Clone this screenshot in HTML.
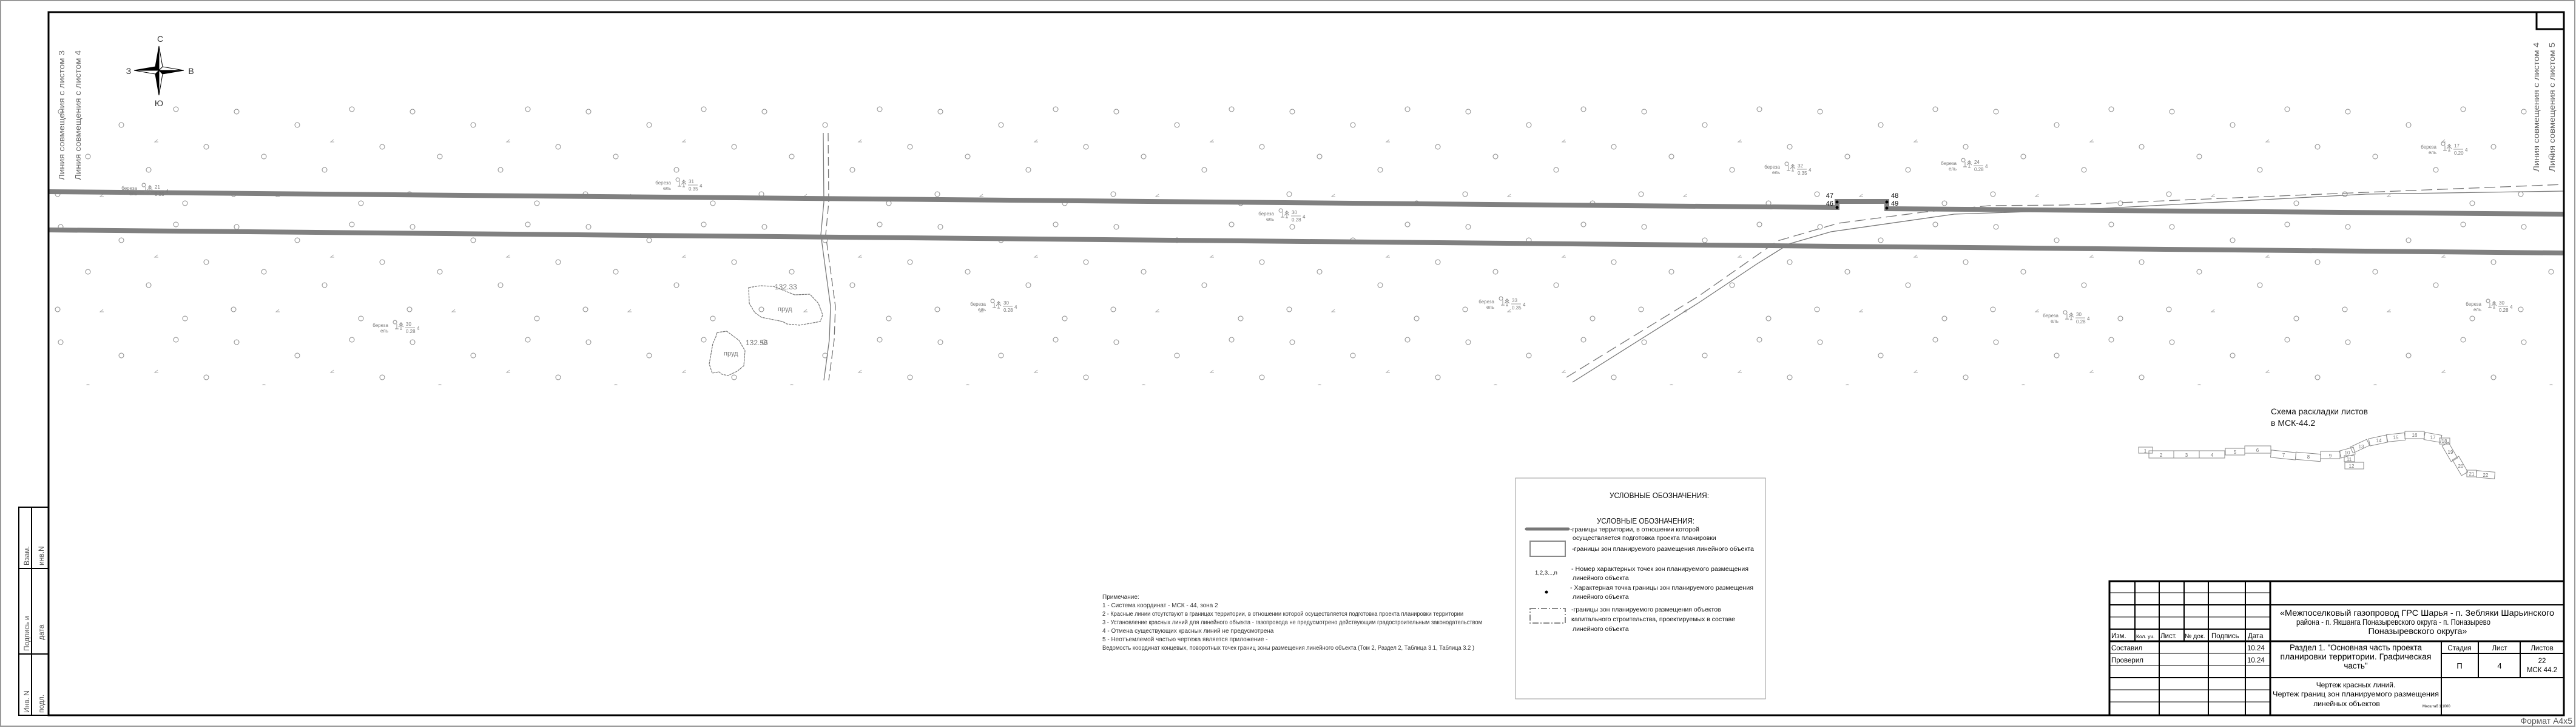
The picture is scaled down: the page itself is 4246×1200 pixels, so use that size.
<!DOCTYPE html>
<html><head><meta charset="utf-8">
<style>
html,body{margin:0;padding:0;background:#fff;}
svg{display:block;}
text{font-family:"Liberation Sans",sans-serif;}
.s{font-family:"Liberation Serif",serif;}
.n{font-family:"Liberation Sans Narrow","Liberation Sans",sans-serif;}
</style></head>
<body>
<svg width="4246" height="1200" viewBox="0 0 4246 1200" xmlns="http://www.w3.org/2000/svg">
<defs>
<pattern id="trees" x="80" y="170" width="290" height="190" patternUnits="userSpaceOnUse">
 <g fill="none" stroke="#888" stroke-width="1">
  <circle cx="20" cy="14" r="4"/><circle cx="120" cy="36" r="4"/><circle cx="210" cy="10" r="4"/>
  <circle cx="260" cy="72" r="4"/><circle cx="65" cy="88" r="4"/><circle cx="165" cy="110" r="4"/>
  <circle cx="15" cy="150" r="4"/><circle cx="225" cy="165" r="4"/>
 </g>
 <path d="M180 60 l-5 4 h6 M90 150 l-5 4 h6" stroke="#aaa" fill="none" stroke-width="1"/>
</pattern>
<g id="tl">
 <path d="M11 -5 a3 3 0 1 1 0.1 0 M14 -5 v8 M11 3 h6" stroke="#888" fill="none" stroke-width="0.9"/>
 <path d="M21 -8 v12 M18 -4 l3 -3 l3 3 M17 0 l4 -4 l4 4 M19 4 h4" stroke="#888" fill="none" stroke-width="0.9"/>
 <line x1="28" y1="1" x2="44" y2="1" stroke="#888" stroke-width="0.8"/>
</g>
</defs>

<rect x="1" y="1" width="4243" height="1196" fill="#fff" stroke="#999" stroke-width="2"/>

<rect x="82" y="170" width="4142" height="465" fill="url(#trees)"/>

<g fill="none" stroke="#777" stroke-width="1.3">
 <path d="M1357 219 L1358 333 L1353 387 L1369 505 L1367 560 L1358 627"/>
 <path d="M1365 219 L1366 333 L1361 387 L1377 505 L1375 560 L1366 627" stroke-dasharray="14 6"/>
 <path d="M2592 630 L2800 499 L2896 435 L2949 402 L3018 382 L3221 353 L3401 347 L3900 320 L4226 315"/>
 <path d="M2582 622 L2800 488 L2930 397 L3030 368 L3168 350 L3279 339 L3401 338 L3900 317 L4226 304" stroke-dasharray="18 8"/>
</g>

<g fill="none" stroke="#777" stroke-width="1.2" stroke-dasharray="4 1">
 <path d="M1234 474 L1253 471 L1275 472 L1310 486 L1335 485 L1349 500 L1356 519 L1352 530 L1318 536 L1297 534 L1290 530 L1255 523 L1244 515 L1235 500 Z"/>
 <path d="M1182 548 L1198 546 L1218 561 L1228 578 L1226 603 L1215 612 L1200 619 L1190 617 L1185 613 L1174 615 L1169 600 L1175 566 L1180 555 Z"/>
</g>
<g fill="#777" font-size="11">
 <text x="1282" y="513">пруд</text>
 <text x="1277" y="477" font-size="12">132.33</text>
 <text x="1193" y="586">пруд</text>
 <text x="1229" y="569" font-size="12">132.56</text>
</g>

<g fill="none" stroke="#808080" stroke-width="8">
 <path d="M80 316 L3028 342 L3028 332 L3110 332 L3110 344 L4226 353"/>
 <path d="M80 379 L4226 417"/>
</g>
<g fill="#000">
 <circle cx="3028" cy="342" r="2.5"/><circle cx="3028" cy="333" r="2.5"/>
 <circle cx="3110" cy="333" r="2.5"/><circle cx="3110" cy="343" r="2.5"/>
</g>
<g font-size="11" fill="#000">
 <text x="3022" y="326" text-anchor="end">47</text>
 <text x="3022" y="339" text-anchor="end">46</text>
 <text x="3117" y="326">48</text>
 <text x="3117" y="339">49</text>
</g>

<g font-size="8" fill="#777">
 <g transform="translate(226,313)"><text text-anchor="end">береза</text><text y="9" text-anchor="end">ель</text><use href="#tl"/><text x="29" y="-2">21</text><text x="29" y="10">0.35</text><text x="47" y="5">4</text></g>
 <g transform="translate(1106,304)"><text text-anchor="end">береза</text><text y="9" text-anchor="end">ель</text><use href="#tl"/><text x="29" y="-2">31</text><text x="29" y="10">0.35</text><text x="47" y="5">4</text></g>
 <g transform="translate(2934,278)"><text text-anchor="end">береза</text><text y="9" text-anchor="end">ель</text><use href="#tl"/><text x="29" y="-2">32</text><text x="29" y="10">0.35</text><text x="47" y="5">4</text></g>
 <g transform="translate(3225,272)"><text text-anchor="end">береза</text><text y="9" text-anchor="end">ель</text><use href="#tl"/><text x="29" y="-2">24</text><text x="29" y="10">0.28</text><text x="47" y="5">4</text></g>
 <g transform="translate(4016,245)"><text text-anchor="end">береза</text><text y="9" text-anchor="end">ель</text><use href="#tl"/><text x="29" y="-2">17</text><text x="29" y="10">0.20</text><text x="47" y="5">4</text></g>
 <g transform="translate(2463,500)"><text text-anchor="end">береза</text><text y="9" text-anchor="end">ель</text><use href="#tl"/><text x="29" y="-2">33</text><text x="29" y="10">0.35</text><text x="47" y="5">4</text></g>
 <g transform="translate(3393,523)"><text text-anchor="end">береза</text><text y="9" text-anchor="end">ель</text><use href="#tl"/><text x="29" y="-2">30</text><text x="29" y="10">0.28</text><text x="47" y="5">4</text></g>
 <g transform="translate(1625,504)"><text text-anchor="end">береза</text><text y="9" text-anchor="end">ель</text><use href="#tl"/><text x="29" y="-2">30</text><text x="29" y="10">0.28</text><text x="47" y="5">4</text></g>
 <g transform="translate(640,539)"><text text-anchor="end">береза</text><text y="9" text-anchor="end">ель</text><use href="#tl"/><text x="29" y="-2">30</text><text x="29" y="10">0.28</text><text x="47" y="5">4</text></g>
 <g transform="translate(4090,504)"><text text-anchor="end">береза</text><text y="9" text-anchor="end">ель</text><use href="#tl"/><text x="29" y="-2">30</text><text x="29" y="10">0.28</text><text x="47" y="5">4</text></g>
 <g transform="translate(2100,355)"><text text-anchor="end">береза</text><text y="9" text-anchor="end">ель</text><use href="#tl"/><text x="29" y="-2">30</text><text x="29" y="10">0.28</text><text x="47" y="5">4</text></g>
</g>

<g stroke="#000" stroke-width="1">
 <polygon points="262,76 262,116 256,110" fill="#000"/>
 <polygon points="262,76 262,116 268,110" fill="#fff"/>
 <polygon points="303,116 262,116 268,110" fill="#fff"/>
 <polygon points="303,116 262,116 268,122" fill="#000"/>
 <polygon points="262,157 262,116 268,122" fill="#fff"/>
 <polygon points="262,157 262,116 256,122" fill="#000"/>
 <polygon points="221,116 262,116 256,122" fill="#fff"/>
 <polygon points="221,116 262,116 256,110" fill="#000"/>
</g>
<g font-size="14" fill="#333" text-anchor="middle">
 <text x="264" y="69">С</text><text x="262" y="175">Ю</text>
 <text x="212" y="122">З</text><text x="315" y="122">В</text>
</g>

<g font-size="13" fill="#666">
 <text transform="translate(106,297) rotate(-90)" textLength="214" lengthAdjust="spacingAndGlyphs">Линия совмещения с листом 3</text>
 <text transform="translate(133,297) rotate(-90)" textLength="214" lengthAdjust="spacingAndGlyphs">Линия совмещения с листом 4</text>
 <text transform="translate(4185,283) rotate(-90)" textLength="213" lengthAdjust="spacingAndGlyphs">Линия совмещения с листом 4</text>
 <text transform="translate(4211,283) rotate(-90)" textLength="213" lengthAdjust="spacingAndGlyphs">Линия совмещения с листом 5</text>
</g>

<rect x="80" y="20" width="4146" height="1159" fill="none" stroke="#000" stroke-width="3"/>
<rect x="4181" y="20" width="45" height="28" fill="none" stroke="#000" stroke-width="3"/>

<g stroke="#000" stroke-width="2" fill="none">
 <rect x="31" y="836" width="49" height="343"/>
 <line x1="52" y1="836" x2="52" y2="1179"/>
 <line x1="31" y1="937" x2="80" y2="937"/>
 <line x1="31" y1="1078" x2="80" y2="1078"/>
</g>
<g font-size="12" fill="#555">
 <text transform="translate(48,932) rotate(-90)">Взам.</text>
 <text transform="translate(72,932) rotate(-90)">инв.N</text>
 <text transform="translate(48,1073) rotate(-90)">Подпись  и</text>
 <text transform="translate(72,1055) rotate(-90)">дата</text>
 <text transform="translate(48,1175) rotate(-90)">Инв. N</text>
 <text transform="translate(72,1175) rotate(-90)">подл.</text>
</g>

<g font-size="10" fill="#333" class="n">
 <text x="1817" y="987">Примечание:</text>
 <text x="1817" y="1001">1 - Система координат - МСК - 44, зона 2</text>
 <text x="1817" y="1015" textLength="595" lengthAdjust="spacingAndGlyphs">2 - Красные линии отсутствуют в границах территории, в отношении которой осуществляется подготовка проекта планировки территории</text>
 <text x="1817" y="1029" textLength="626" lengthAdjust="spacingAndGlyphs">3 - Установление красных линий для линейного объекта - газопровода не предусмотрено действующим градостроительным законодательством</text>
 <text x="1817" y="1043">4 - Отмена существующих красных линий не предусмотрена</text>
 <text x="1817" y="1057">5 - Неотъемлемой частью чертежа является приложение -</text>
 <text x="1817" y="1071" textLength="613" lengthAdjust="spacingAndGlyphs">Ведомость координат концевых, поворотных точек границ зоны размещения линейного объекта (Том 2, Раздел 2, Таблица 3.1, Таблица 3.2 )</text>
</g>

<rect x="2498" y="788" width="412" height="364" fill="#fff" stroke="#999" stroke-width="1"/>
<g fill="#111">
 <text x="2653" y="821" font-size="13" textLength="164" lengthAdjust="spacingAndGlyphs">УСЛОВНЫЕ ОБОЗНАЧЕНИЯ:</text>
 <text x="2632" y="863" font-size="13" textLength="161" lengthAdjust="spacingAndGlyphs">УСЛОВНЫЕ ОБОЗНАЧЕНИЯ:</text>
 <g font-size="10.5">
  <text x="2588" y="876">-границы территории, в отношении которой</text>
  <text x="2592" y="890">осуществляется подготовка проекта планировки</text>
  <text x="2591" y="908" textLength="300" lengthAdjust="spacingAndGlyphs">-границы зон планируемого размещения линейного объекта</text>
  <text x="2530" y="947" font-size="9.5">1,2,3...,n</text>
  <text x="2590" y="941" textLength="292" lengthAdjust="spacingAndGlyphs">- Номер характерных точек зон планируемого размещения</text>
  <text x="2592" y="956">линейного объекта</text>
  <text x="2588" y="972" textLength="302" lengthAdjust="spacingAndGlyphs">- Характерная точка границы зон планируемого размещения</text>
  <text x="2592" y="987">линейного объекта</text>
  <text x="2590" y="1008">-границы зон планируемого размещения объектов</text>
  <text x="2590" y="1024">капитального строительства, проектируемых в составе</text>
  <text x="2592" y="1040">линейного объекта</text>
 </g>
</g>
<line x1="2516" y1="872" x2="2585" y2="872" stroke="#777" stroke-width="5" stroke-linecap="round"/>
<rect x="2522" y="892" width="58" height="25" fill="none" stroke="#888" stroke-width="2"/>
<circle cx="2549" cy="976" r="2.5" fill="#000"/>
<rect x="2522" y="1003" width="58" height="24" fill="none" stroke="#888" stroke-width="2" stroke-dasharray="10 3 2 3"/>

<g font-size="14" fill="#111">
 <text x="3743" y="683" textLength="160" lengthAdjust="spacingAndGlyphs">Схема раскладки листов</text>
 <text x="3743" y="702">в МСК-44.2</text>
</g>
<g fill="none" stroke="#888" stroke-width="1">
 <rect x="3525" y="737" width="23" height="10"/>
 <rect x="3542" y="743" width="41" height="12"/>
 <rect x="3583" y="743" width="42" height="12"/>
 <rect x="3625" y="743" width="42" height="12"/>
 <rect x="3668" y="739" width="32" height="11"/>
 <rect x="3700" y="735" width="43" height="12"/>
 <rect x="3743" y="744" width="41" height="12" transform="rotate(6 3764 750)"/>
 <rect x="3784" y="747" width="41" height="12" transform="rotate(5 3805 753)"/>
 <rect x="3825" y="744" width="32" height="12"/>
 <rect x="3857" y="740" width="24" height="12" transform="rotate(-15 3869 746)"/>
 <rect x="3864" y="751" width="17" height="10"/>
 <rect x="3865" y="762" width="31" height="11"/>
 <rect x="3875" y="730" width="30" height="11" transform="rotate(-25 3890 736)"/>
 <rect x="3905" y="720" width="30" height="12" transform="rotate(-12 3920 726)"/>
 <rect x="3934" y="715" width="30" height="12" transform="rotate(-6 3949 721)"/>
 <rect x="3964" y="711" width="32" height="12"/>
 <rect x="3996" y="715" width="28" height="12" transform="rotate(10 4010 721)"/>
 <rect x="4021" y="722" width="17" height="10"/>
 <rect x="4023" y="739" width="30" height="12" transform="rotate(60 4038 745)"/>
 <rect x="4040" y="762" width="30" height="12" transform="rotate(60 4055 768)"/>
 <rect x="4066" y="775" width="16" height="11"/>
 <rect x="4082" y="777" width="30" height="11" transform="rotate(5 4097 783)"/>
</g>
<g font-size="8" fill="#777" text-anchor="middle">
 <text x="3536" y="746">1</text><text x="3562" y="753">2</text><text x="3604" y="753">3</text>
 <text x="3646" y="753">4</text><text x="3684" y="748">5</text><text x="3721" y="745">6</text>
 <text x="3764" y="753">7</text><text x="3805" y="756">8</text><text x="3841" y="754">9</text>
 <text x="3869" y="749">10</text><text x="3872" y="760">11</text><text x="3876" y="771">12</text>
 <text x="3892" y="739">13</text><text x="3921" y="729">14</text><text x="3949" y="724">15</text>
 <text x="3980" y="720">16</text><text x="4010" y="724">17</text><text x="4029" y="730">18</text>
 <text x="4039" y="748">19</text><text x="4056" y="771">20</text><text x="4074" y="784">21</text>
 <text x="4097" y="786">22</text>
</g>

<rect x="3477" y="958" width="749" height="221" fill="#fff"/>
<g stroke="#000" fill="none">
 <rect x="3477" y="958" width="749" height="221" stroke-width="3"/>
 <g stroke-width="2">
  <line x1="3519" y1="958" x2="3519" y2="1057"/>
  <line x1="3600" y1="958" x2="3600" y2="1057"/>
  <line x1="3559" y1="958" x2="3559" y2="1179"/>
  <line x1="3640" y1="958" x2="3640" y2="1179"/>
  <line x1="3701" y1="958" x2="3701" y2="1179"/>
  <line x1="3742" y1="958" x2="3742" y2="1179" stroke-width="3"/>
  <line x1="3477" y1="977" x2="3742" y2="977" stroke-width="1"/>
  <line x1="3477" y1="997" x2="4226" y2="997"/>
  <line x1="3477" y1="1017" x2="3742" y2="1017" stroke-width="1"/>
  <line x1="3477" y1="1037" x2="3742" y2="1037"/>
  <line x1="3477" y1="1057" x2="4226" y2="1057" stroke-width="3"/>
  <line x1="3477" y1="1077" x2="3742" y2="1077" stroke-width="1"/>
  <line x1="3477" y1="1097" x2="3742" y2="1097" stroke-width="1"/>
  <line x1="3477" y1="1117" x2="4226" y2="1117"/>
  <line x1="3477" y1="1137" x2="3742" y2="1137" stroke-width="1"/>
  <line x1="3477" y1="1157" x2="3742" y2="1157" stroke-width="1"/>
  <line x1="4024" y1="1057" x2="4024" y2="1179"/>
  <line x1="4085" y1="1057" x2="4085" y2="1117"/>
  <line x1="4154" y1="1057" x2="4154" y2="1117"/>
  <line x1="4024" y1="1077" x2="4226" y2="1077"/>
 </g>
</g>
<g class="n" font-size="11.5" fill="#000">
 <text x="3480" y="1052">Изм.</text>
 <text x="3521" y="1052" font-size="8.5">Кол. уч.</text>
 <text x="3561" y="1052">Лист.</text>
 <text x="3601" y="1052" font-size="10.5">№ док.</text>
 <text x="3645" y="1052">Подпись</text>
 <text x="3705" y="1052">Дата</text>
 <text x="3480" y="1072">Составил</text>
 <text x="3704" y="1072">10.24</text>
 <text x="3480" y="1092">Проверил</text>
 <text x="3704" y="1092">10.24</text>
 <text x="4054" y="1072" text-anchor="middle">Стадия</text>
 <text x="4120" y="1072" text-anchor="middle">Лист</text>
 <text x="4190" y="1072" text-anchor="middle">Листов</text>
 <text x="4054" y="1102" text-anchor="middle" font-size="13">П</text>
 <text x="4120" y="1102" text-anchor="middle" font-size="13">4</text>
 <text x="4190" y="1093" text-anchor="middle">22</text>
 <text x="4190" y="1108" text-anchor="middle">МСК 44.2</text>
</g>
<g class="s" font-size="13.5" fill="#000" text-anchor="middle">
 <text x="3984" y="1015" textLength="452" lengthAdjust="spacingAndGlyphs">«Межпоселковый газопровод ГРС Шарья - п. Зебляки Шарьинского</text>
 <text x="3945" y="1030" textLength="320" lengthAdjust="spacingAndGlyphs">района - п. Якшанга Поназыревского округа - п. Поназырево</text>
 <text x="3985" y="1045" textLength="163" lengthAdjust="spacingAndGlyphs">Поназыревского округа»</text>
 <text x="3883" y="1072" textLength="218" lengthAdjust="spacingAndGlyphs">Раздел 1. "Основная часть проекта</text>
 <text x="3883" y="1087" textLength="249" lengthAdjust="spacingAndGlyphs">планировки территории. Графическая</text>
 <text x="3883" y="1102">часть"</text>
 <text x="3883" y="1133" font-size="12">Чертеж красных линий.</text>
 <text x="3883" y="1148" font-size="12" textLength="274" lengthAdjust="spacingAndGlyphs">Чертеж  границ  зон  планируемого  размещения</text>
 <text x="3868" y="1164" font-size="12">линейных объектов</text>
</g>
<text x="3993" y="1166" font-size="6" fill="#000">Масштаб 1:1000</text>

<text x="4240" y="1193" font-size="14" fill="#555" text-anchor="end">Формат А4х5</text>
</svg>
</body></html>
